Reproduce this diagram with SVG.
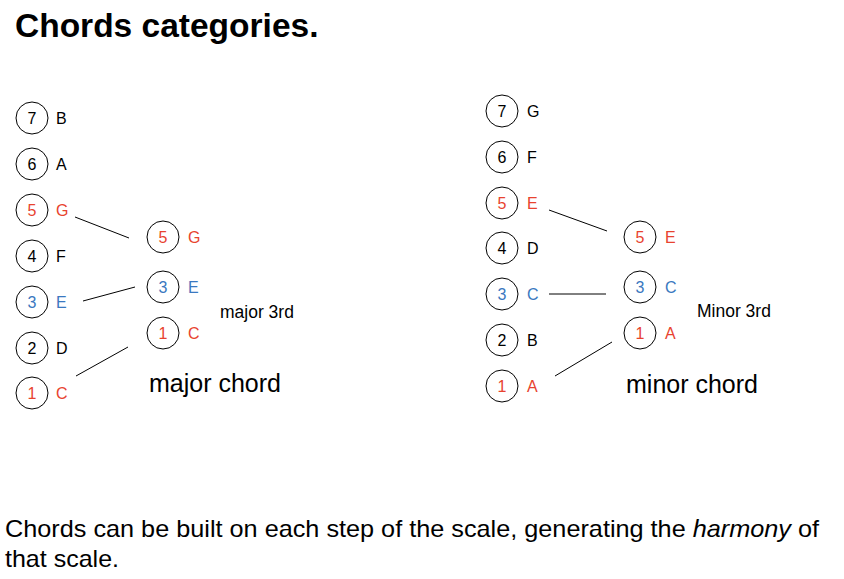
<svg xmlns="http://www.w3.org/2000/svg" width="844" height="579" viewBox="0 0 844 579">
<style>
text{font-family:"Liberation Sans",Arial,sans-serif;fill:#000}
.c{fill:none;stroke:#000;stroke-width:1}
.n{font-size:16px;text-anchor:middle}
.l{font-size:16px}
.r{fill:#e8432f}
.b{fill:#3a78c0}
.ln{stroke:#000;stroke-width:1;fill:none}
.title{font-size:33.5px;font-weight:bold}
.big{font-size:25px}
.sm{font-size:17.5px}
.body{font-size:24px}
</style>
<rect width="844" height="579" fill="#fff"/>
<text class="title" x="15" y="37">Chords categories.</text>

<g id="maj-scale">
<g id="maj-7"><circle class="c" cx="32" cy="118" r="16"/><text class="n" x="32" y="124">7</text><text class="l" x="56" y="124">B</text></g>
<g id="maj-6"><circle class="c" cx="32" cy="164" r="16"/><text class="n" x="32" y="170">6</text><text class="l" x="56" y="170">A</text></g>
<g id="maj-5"><circle class="c" cx="32" cy="210" r="16"/><text class="n r" x="32" y="216">5</text><text class="l r" x="56" y="216">G</text></g>
<g id="maj-4"><circle class="c" cx="32" cy="256" r="16"/><text class="n" x="32" y="262">4</text><text class="l" x="56" y="262">F</text></g>
<g id="maj-3"><circle class="c" cx="32" cy="302" r="16"/><text class="n b" x="32" y="308">3</text><text class="l b" x="56" y="308">E</text></g>
<g id="maj-2"><circle class="c" cx="32" cy="348" r="16"/><text class="n" x="32" y="354">2</text><text class="l" x="56" y="354">D</text></g>
<g id="maj-1"><circle class="c" cx="32" cy="393" r="16"/><text class="n r" x="32" y="399">1</text><text class="l r" x="56" y="399">C</text></g>
</g>
<g id="maj-chord">
<g id="majc-5"><circle class="c" cx="163" cy="237" r="16"/><text class="n r" x="163" y="243">5</text><text class="l r" x="188" y="243">G</text></g>
<g id="majc-3"><circle class="c" cx="163" cy="287" r="16"/><text class="n b" x="163" y="293">3</text><text class="l b" x="188" y="293">E</text></g>
<g id="majc-1"><circle class="c" cx="163" cy="333" r="16"/><text class="n r" x="163" y="339">1</text><text class="l r" x="188" y="339">C</text></g>
</g>
<text class="sm" x="220" y="318">major 3rd</text>
<text class="big" x="149" y="392">major chord</text>

<g id="min-scale">
<g id="min-7"><circle class="c" cx="502" cy="111" r="16"/><text class="n" x="502" y="117">7</text><text class="l" x="527" y="117">G</text></g>
<g id="min-6"><circle class="c" cx="502" cy="157" r="16"/><text class="n" x="502" y="163">6</text><text class="l" x="527" y="163">F</text></g>
<g id="min-5"><circle class="c" cx="502" cy="203" r="16"/><text class="n r" x="502" y="209">5</text><text class="l r" x="527" y="209">E</text></g>
<g id="min-4"><circle class="c" cx="502" cy="248" r="16"/><text class="n" x="502" y="254">4</text><text class="l" x="527" y="254">D</text></g>
<g id="min-3"><circle class="c" cx="502" cy="294" r="16"/><text class="n b" x="502" y="300">3</text><text class="l b" x="527" y="300">C</text></g>
<g id="min-2"><circle class="c" cx="502" cy="340" r="16"/><text class="n" x="502" y="346">2</text><text class="l" x="527" y="346">B</text></g>
<g id="min-1"><circle class="c" cx="502" cy="386" r="16"/><text class="n r" x="502" y="392">1</text><text class="l r" x="527" y="392">A</text></g>
</g>
<g id="min-chord">
<g id="minc-5"><circle class="c" cx="640" cy="237" r="16"/><text class="n r" x="640" y="243">5</text><text class="l r" x="665" y="243">E</text></g>
<g id="minc-3"><circle class="c" cx="640" cy="287" r="16"/><text class="n b" x="640" y="293">3</text><text class="l b" x="665" y="293">C</text></g>
<g id="minc-1"><circle class="c" cx="640" cy="333" r="16"/><text class="n r" x="640" y="339">1</text><text class="l r" x="665" y="339">A</text></g>
</g>
<text class="sm" x="697" y="317">Minor 3rd</text>
<text class="big" x="626" y="393">minor chord</text>

<g id="connectors">
<line class="ln" x1="75" y1="217" x2="129" y2="238"/>
<line class="ln" x1="83" y1="301" x2="135" y2="287"/>
<line class="ln" x1="76" y1="376" x2="128" y2="347"/>
<line class="ln" x1="549" y1="210" x2="607" y2="231"/>
<line class="ln" x1="549" y1="294" x2="606" y2="294"/>
<line class="ln" x1="555" y1="376" x2="612" y2="342"/>
</g>

<text class="body" x="5" y="537" textLength="814" lengthAdjust="spacingAndGlyphs">Chords can be built on each step of the scale, generating the <tspan font-style="italic">harmony</tspan> of</text>
<text class="body" x="5" y="567" textLength="114" lengthAdjust="spacingAndGlyphs">that scale.</text>
</svg>
